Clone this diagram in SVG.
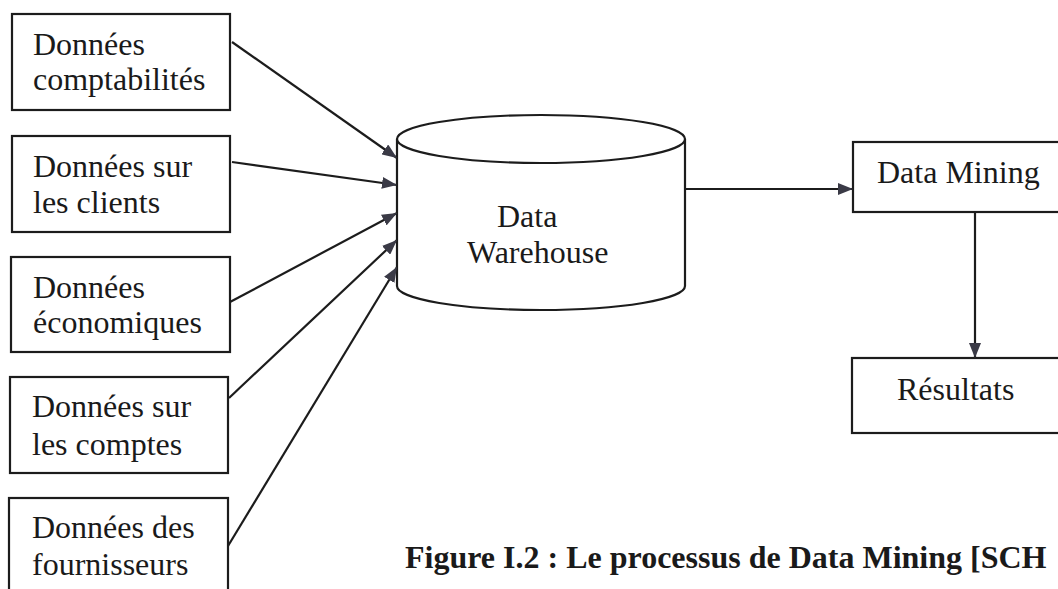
<svg xmlns="http://www.w3.org/2000/svg" width="1058" height="589" viewBox="0 0 1058 589">
  <style>
    .box { fill: #ffffff; stroke: #1c1c1c; stroke-width: 2.2; }
    .lbl { font-family: "Liberation Serif", "Times New Roman", serif; font-size: 32px; fill: #1a1a1a; }
    .cap { font-family: "Liberation Serif", "Times New Roman", serif; font-size: 32px; font-weight: bold; fill: #1a1a1a; }
    .edge { fill: none; stroke: #1c1c1c; stroke-width: 2.2; }
  </style>
  <defs>
    <marker id="arrow" markerUnits="userSpaceOnUse" markerWidth="16" markerHeight="12" refX="15" refY="6" orient="auto">
      <path d="M0,0 L15,6 L0,12 z" fill="#3a3a46"/>
    </marker>
  </defs>
  <rect width="1058" height="589" fill="#ffffff"/>

  <!-- source boxes -->
  <g id="n-comptabilites">
    <rect class="box" x="12" y="14" width="218" height="96"/>
    <text class="lbl" x="33" y="55">Données</text>
    <text class="lbl" x="33" y="90">comptabilités</text>
  </g>
  <g id="n-clients">
    <rect class="box" x="12" y="136" width="218" height="96"/>
    <text class="lbl" x="33" y="177">Données sur</text>
    <text class="lbl" x="33" y="213">les clients</text>
  </g>
  <g id="n-economiques">
    <rect class="box" x="11" y="257" width="219" height="95"/>
    <text class="lbl" x="33" y="298">Données</text>
    <text class="lbl" x="33" y="333">économiques</text>
  </g>
  <g id="n-comptes">
    <rect class="box" x="10" y="377" width="218" height="96"/>
    <text class="lbl" x="32" y="417">Données sur</text>
    <text class="lbl" x="32" y="455">les comptes</text>
  </g>
  <g id="n-fournisseurs">
    <rect class="box" x="9" y="498" width="219" height="100"/>
    <text class="lbl" x="32" y="538">Données des</text>
    <text class="lbl" x="32" y="575">fournisseurs</text>
  </g>

  <!-- warehouse cylinder -->
  <g id="n-warehouse">
    <path class="box" d="M397,139 L397,286 A144,24 0 0 0 685,286 L685,139"/>
    <ellipse class="box" cx="541" cy="139" rx="144" ry="24"/>
    <text class="lbl" x="497" y="227">Data</text>
    <text class="lbl" x="467" y="263">Warehouse</text>
  </g>

  <!-- mining and results -->
  <g id="n-mining">
    <rect class="box" x="853" y="142" width="220" height="70"/>
    <text class="lbl" x="877" y="183">Data Mining</text>
  </g>
  <g id="n-resultats">
    <rect class="box" x="852" y="358" width="220" height="75"/>
    <text class="lbl" x="897" y="400">Résultats</text>
  </g>

  <!-- connectors -->
  <g id="edges">
    <line class="edge" x1="232" y1="42" x2="397" y2="158" marker-end="url(#arrow)"/>
    <line class="edge" x1="232" y1="162" x2="397" y2="185" marker-end="url(#arrow)"/>
    <line class="edge" x1="230" y1="302" x2="397" y2="213" marker-end="url(#arrow)"/>
    <line class="edge" x1="229" y1="398" x2="397" y2="240" marker-end="url(#arrow)"/>
    <line class="edge" x1="228" y1="546" x2="397" y2="267" marker-end="url(#arrow)"/>
    <line class="edge" x1="685" y1="189" x2="853" y2="189" marker-end="url(#arrow)"/>
    <line class="edge" x1="975" y1="212" x2="975" y2="358" marker-end="url(#arrow)"/>
  </g>

  <text class="cap" x="405" y="568">Figure I.2 : Le processus de Data Mining [SCH</text>
</svg>
